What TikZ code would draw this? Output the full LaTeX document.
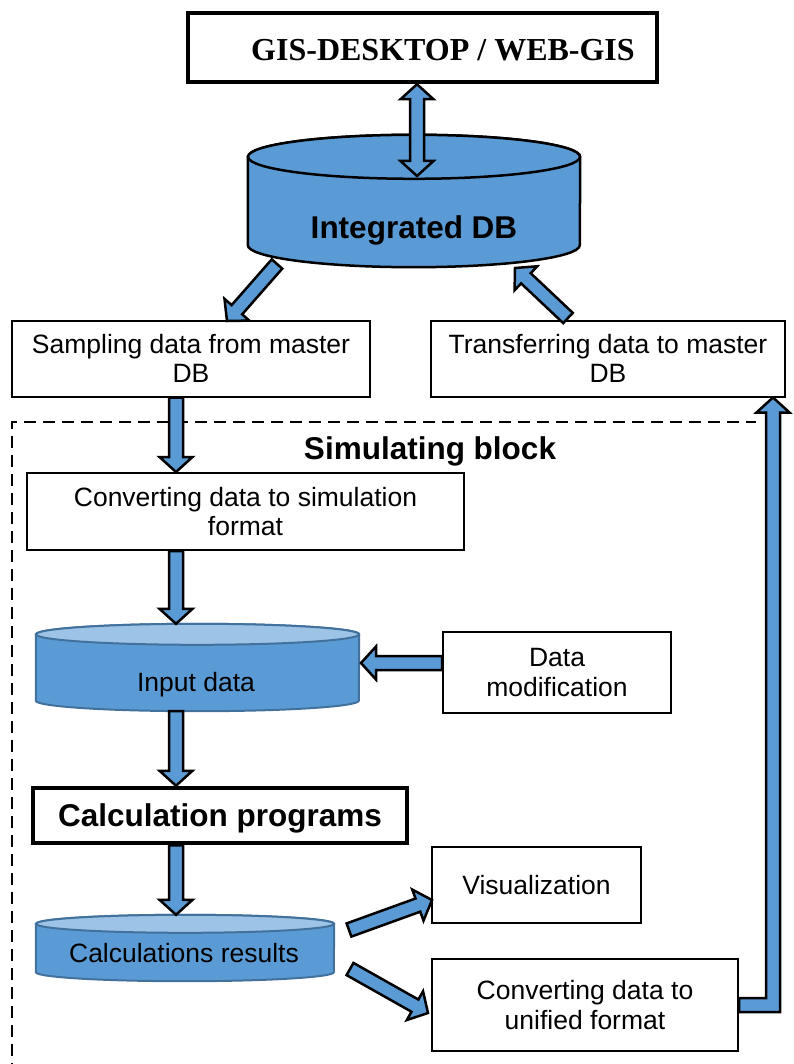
\documentclass[tikz,border=0pt]{standalone}
\usepackage{fontspec}
\setmainfont{Liberation Sans}
\newfontfamily\gisfont{Liberation Serif}
\usetikzlibrary{calc}
\definecolor{arrblue}{HTML}{5B9BD5}
\definecolor{cyltop}{HTML}{9DC3E6}
\definecolor{cylline}{HTML}{41719C}
\newcommand\arrsw{7pt}
\newcommand\arrhw{16.5pt}
\newcommand\arrhl{15pt}
% block arrow from #1 to #2
\newcommand\barrow[2]{%
  \coordinate (baS) at (#1);
  \coordinate (baE) at (#2);
  \coordinate (baH) at ($(baE)!\arrhl!(baS)$);
  \filldraw[blockarr] ($(baS)!\arrsw!90:(baE)$) -- ($(baH)!\arrsw!-90:(baS)$)
    -- ($(baH)!\arrhw!-90:(baS)$) -- (baE) -- ($(baH)!\arrhw!90:(baS)$)
    -- ($(baH)!\arrsw!90:(baS)$) -- ($(baS)!\arrsw!-90:(baE)$) -- cycle;
}
% double block arrow
\newcommand\dblarrow[2]{%
  \coordinate (baS) at (#1);
  \coordinate (baE) at (#2);
  \coordinate (baH) at ($(baE)!\arrhl!(baS)$);
  \coordinate (baG) at ($(baS)!\arrhl!(baE)$);
  \filldraw[blockarr] (baS) -- ($(baG)!\arrhw!90:(baE)$) -- ($(baG)!\arrsw!90:(baE)$)
    -- ($(baH)!\arrsw!-90:(baS)$) -- ($(baH)!\arrhw!-90:(baS)$) -- (baE)
    -- ($(baH)!\arrhw!90:(baS)$) -- ($(baH)!\arrsw!90:(baS)$)
    -- ($(baG)!\arrsw!-90:(baE)$) -- ($(baG)!\arrhw!-90:(baE)$) -- cycle;
}
% cylinder drawn round node #1: rx #2, ry #3, body #4, top #5, line #6, width #7
\newcommand\drawcyl[7]{%
  \filldraw[fill=#4, draw=#6, line width=#7]
    ([yshift=-#3]#1.north west) -- ([yshift=#3]#1.south west)
    arc[start angle=180, end angle=360, x radius=#2, y radius=#3]
    -- ([yshift=-#3]#1.north east)
    arc[start angle=0, end angle=180, x radius=#2, y radius=#3] -- cycle;
  \filldraw[fill=#5, draw=#6, line width=#7] ([yshift=-#3]#1.north)
    ellipse[x radius=#2, y radius=#3];
}
\begin{document}
\begin{tikzpicture}[x=1pt,y=1pt,
  txt/.style={font=\fontsize{26.5}{29.5}\selectfont, align=center},
  box/.style={txt, draw, line width=2pt, fill=white, inner sep=0pt},
  thickbox/.style={draw, line width=4.5pt, fill=white, inner sep=0pt},
  boldtxt/.style={font=\fontsize{31.5}{34}\selectfont\bfseries, inner sep=0pt},
  cyl/.style={inner sep=0pt},
  blockarr/.style={fill=arrblue, draw=black, line width=2.5pt},
  blockframe/.style={draw=black, line width=2pt, dash pattern=on 12pt off 7pt}]
\useasboundingbox (0,0) rectangle (793,-1064);

% simulating block frame
\coordinate (frbl) at (12,-1075);
\coordinate (frtl) at (12,-422);
\coordinate (frtr) at (756,-422);
\draw[blockframe] (frbl) -- (frtl) -- (frtr);

% boxes
\node[thickbox, minimum width=469pt, minimum height=69pt] (gis) at (422.5,-47.5) {};
\node[font=\gisfont\fontsize{32}{34}\selectfont\bfseries, inner sep=0pt] (gist) at (443,-50) {GIS-DESKTOP / WEB-GIS};

\node[box, minimum width=358pt, minimum height=76pt] (samp) at (191,-358.5) {Sampling data from master\\DB};
\node[box, minimum width=354pt, minimum height=76pt] (trans) at (608,-358.5) {Transferring data to master\\DB};

\node[boldtxt] (simt) at (430,-451) {Simulating block};

\node[box, minimum width=437pt, minimum height=77pt] (conv1) at (245.5,-511.5) {Converting data to simulation\\format};

\node[box, minimum width=228pt, minimum height=81pt] (dmod) at (557,-672.5) {Data\\modification};

\node[thickbox, minimum width=374pt, minimum height=55pt] (calc) at (220,-815.5) {};
\node[boldtxt] (calct) at (220,-818) {Calculation programs};

\node[box, minimum width=209pt, minimum height=76pt] (vis) at (536.5,-885) {Visualization};
\node[box, minimum width=306pt, minimum height=92pt] (conv2) at (585,-1005) {Converting data to\\unified format};

% cylinders
\node[cyl, minimum width=332pt, minimum height=132pt] (db) at (414,-201) {};
\drawcyl{db}{166pt}{22pt}{arrblue}{arrblue}{black}{2.5pt}
\node[boldtxt] (dbt) at (414,-230) {Integrated DB};

\node[cyl, minimum width=323pt, minimum height=87pt] (inp) at (197.5,-667.5) {};
\drawcyl{inp}{161.5pt}{10.5pt}{arrblue}{cyltop}{cylline}{2pt}
\node[txt, inner sep=0pt] (inpt) at (196,-685) {Input data};

\node[cyl, minimum width=298pt, minimum height=66pt] (res) at (185,-948) {};
\drawcyl{res}{149pt}{9pt}{arrblue}{cyltop}{cylline}{2pt}
\node[txt, inner sep=0pt] (rest) at (184,-953) {Calculations results};

% arrows
\coordinate (col) at (176,0);
\coordinate (dbtop) at (417,-176);
\dblarrow{gis.south -| dbtop}{dbtop}

\coordinate (dbsl) at (277,-264);
\coordinate (samptip) at (227,-321);
\barrow{dbsl}{samptip}

\coordinate (transtail) at (568,-318);
\coordinate (dbsr) at (515,-268);
\barrow{transtail}{dbsr}

\barrow{samp.south -| col}{conv1.north -| col}
\barrow{conv1.south -| col}{inp.north -| col}
\barrow{inp.south -| col}{calc.north -| col}
\barrow{calc.south -| col}{res.north -| col}

\coordinate (inpr) at (361,-663);
\barrow{dmod.west |- inpr}{inpr}

\coordinate (resvt) at (349,-930);
\coordinate (vistip) at (432,-900);
\barrow{resvt}{vistip}

\coordinate (rescv) at (350,-969);
\coordinate (cvtip) at (428,-1013);
\barrow{rescv}{cvtip}

% return arrow
\coordinate (ex) at (773,0);
\coordinate (eS) at (conv2.east);
\coordinate (eC) at (conv2.east -| ex);
\coordinate (eT) at (trans.south -| ex);
\filldraw[blockarr] ([yshift=-\arrsw]eS) -- ([xshift=\arrsw,yshift=-\arrsw]eC)
  -- ([xshift=\arrsw,yshift=-\arrhl]eT) -- ([xshift=\arrhw,yshift=-\arrhl]eT)
  -- (eT) -- ([xshift=-\arrhw,yshift=-\arrhl]eT) -- ([xshift=-\arrsw,yshift=-\arrhl]eT)
  -- ([xshift=-\arrsw,yshift=\arrsw]eC) -- ([yshift=\arrsw]eS) -- cycle;
\end{tikzpicture}
\end{document}
